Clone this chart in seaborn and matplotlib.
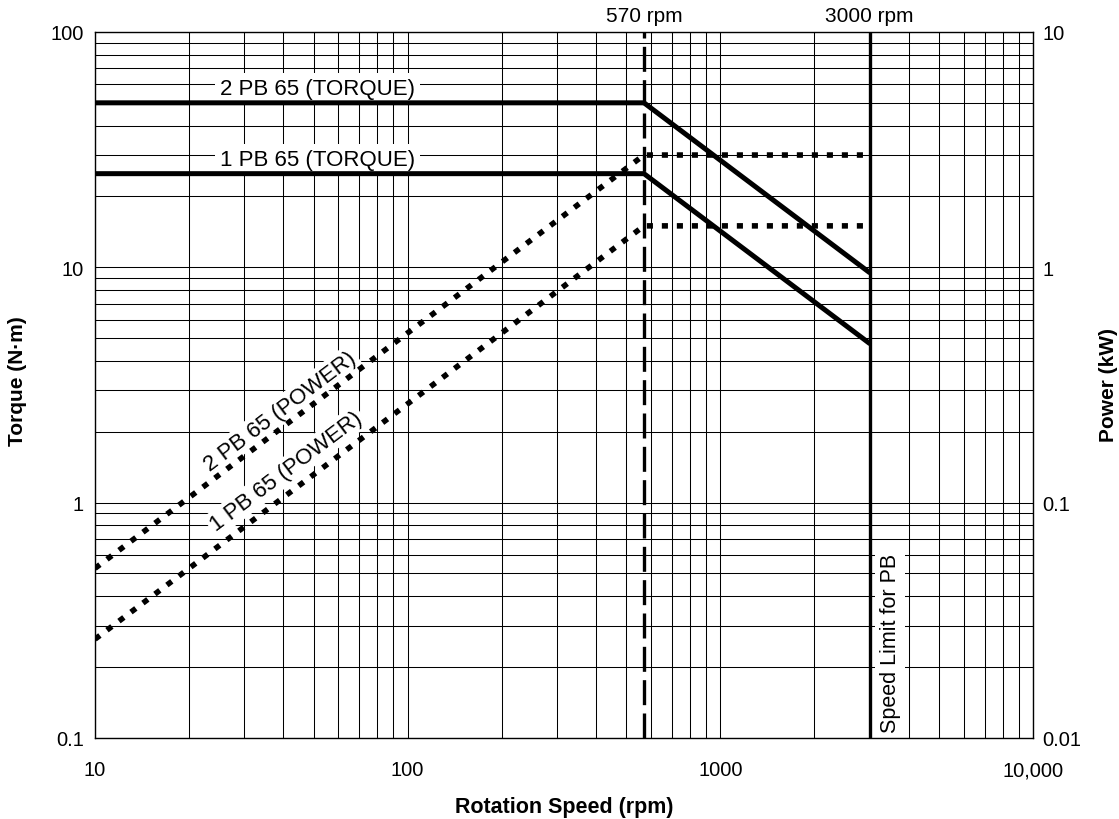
import matplotlib
matplotlib.use("Agg")
import matplotlib.pyplot as plt
import matplotlib.ticker as mticker
import seaborn as sns
import pandas as pd

# ---- data ----
speed_torque = [10, 570, 3000]
torque_2pb = [50, 50, 9.5]
torque_1pb = [25, 25, 4.75]

speed_power = [10, 570, 3000]
power_2pb_kw = [0.0526, 3.0, 3.0]
power_1pb_kw = [0.0263, 1.5, 1.5]

knee_speed = 570
limit_speed = 3000

x_ticks = [10, 100, 1000, 10000]
x_ticklabels = ["10", "100", "1000", "10,000"]
y_ticks = [0.1, 1, 10, 100]
y_ticklabels = ["0.1", "1", "10", "100"]
y2_ticks = [0.01, 0.1, 1, 10]
y2_ticklabels = ["0.01", "0.1", "1", "10"]

sns.set_theme(style="white")
plt.rcParams["font.family"] = ["Liberation Sans", "DejaVu Sans"]
plt.rcParams["text.color"] = "black"
plt.rcParams["axes.labelcolor"] = "black"
plt.rcParams["xtick.color"] = "black"
plt.rcParams["ytick.color"] = "black"

fig = plt.figure(figsize=(11.19, 8.2), dpi=100)
ax = fig.add_axes([0.0849, 0.0988, 0.83825, 0.86098])
ax.set_xscale("log")
ax.set_yscale("log")
ax.set_xlim(10, 10000)
ax.set_ylim(0.1, 100)

ax.grid(True, which="both", color="black", lw=0.75, zorder=0)
ax.set_axisbelow(True)
for s in ax.spines.values():
    s.set_color("black")
    s.set_linewidth(1.0)

df_t = pd.DataFrame({"speed": speed_torque, "t2": torque_2pb, "t1": torque_1pb})
sns.lineplot(data=df_t, x="speed", y="t2", ax=ax, color="black", lw=3.6, zorder=5)
sns.lineplot(data=df_t, x="speed", y="t1", ax=ax, color="black", lw=3.6, zorder=5)

ax.axvline(knee_speed, color="black", lw=2.4, ls=(0, (7.5, 2.5)), zorder=4)
ax.axvline(limit_speed, color="black", lw=2.4, zorder=4)

ax.set_xticks(x_ticks, labels=x_ticklabels)
ax.set_yticks(y_ticks, labels=y_ticklabels)
ax.xaxis.set_minor_formatter(mticker.NullFormatter())
ax.yaxis.set_minor_formatter(mticker.NullFormatter())
ax.tick_params(axis="x", which="both", length=0, pad=16, labelsize=14.5, colors="black")
ax.tick_params(axis="y", which="both", length=0, pad=8, labelsize=14.5, colors="black")
ax.set_xlabel("Rotation Speed (rpm)", fontsize=15.5, fontweight="bold", labelpad=12, color="black")
ax.set_ylabel("")

# twin axis for power
ax2 = ax.twinx()
ax2.set_yscale("log")
ax2.set_ylim(0.01, 10)
df_p = pd.DataFrame({"speed": speed_power, "p2": power_2pb_kw, "p1": power_1pb_kw})
sns.lineplot(data=df_p, x="speed", y="p2", ax=ax2, color="black", lw=4.0,
             ls=(0, (1.1, 1.6)), zorder=5)
sns.lineplot(data=df_p, x="speed", y="p1", ax=ax2, color="black", lw=4.0,
             ls=(0, (1.1, 1.6)), zorder=5)
ax2.set_xlim(10, 10000)
ax2.set_yticks(y2_ticks, labels=y2_ticklabels)
ax2.yaxis.set_minor_formatter(mticker.NullFormatter())
ax2.tick_params(axis="y", which="both", length=0, pad=7, labelsize=14.5, colors="black")
ax2.set_ylabel("")
ax2.set_xlabel("")
ax2.grid(False)
for s in ax2.spines.values():
    s.set_visible(False)

# axis titles
fig.text(18 / 1119, 1 - 381 / 820, "Torque (N·m)", rotation=90, ha="center", va="center",
         fontsize=15, fontweight="bold")
fig.text(1108 / 1119, 1 - 385 / 820, "Power (kW)", rotation=90, ha="center", va="center",
         fontsize=15, fontweight="bold")

# annotations
box = dict(boxstyle="square,pad=0.22", fc="white", ec="none")
ax.text(51.6, 57.8, "2 PB 65 (TORQUE)", ha="center", va="center", fontsize=16, bbox=box, zorder=3)
ax.text(51.6, 28.8, "1 PB 65 (TORQUE)", ha="center", va="center", fontsize=16, bbox=box, zorder=3)
box2 = dict(boxstyle="square,pad=0.12", fc="white", ec="none")
ax.text(39.0, 2.45, "2 PB 65 (POWER)", ha="center", va="center", rotation=37,
        rotation_mode="anchor", fontsize=16, bbox=box2, zorder=3)
ax.text(40.8, 1.36, "1 PB 65 (POWER)", ha="center", va="center", rotation=37,
        rotation_mode="anchor", fontsize=16, bbox=box2, zorder=3)
ax.text(3236, 0.106, "Speed Limit for PB", ha="left", va="bottom", rotation=90,
        fontsize=15.5, bbox=dict(boxstyle="square,pad=0.2", fc="white", ec="none"), zorder=3)

ax.annotate("570 rpm", xy=(knee_speed, 1.024), xycoords=("data", "axes fraction"),
            ha="center", va="center", fontsize=15)
ax.annotate("3000 rpm", xy=(limit_speed, 1.024), xycoords=("data", "axes fraction"),
            ha="center", va="center", fontsize=15)

fig.savefig("out.png", dpi=100)
